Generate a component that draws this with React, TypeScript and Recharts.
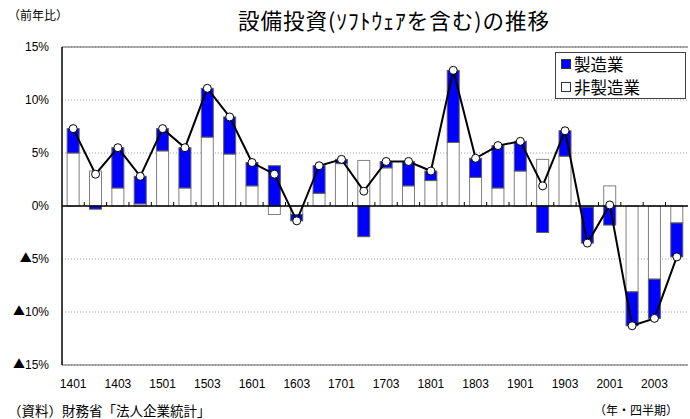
import React from 'react';
import { ComposedChart, Bar, Line, XAxis, YAxis, CartesianGrid, ReferenceLine, Legend } from 'recharts';

const quarters = ['1401','1402','1403','1404','1501','1502','1503','1504','1601','1602','1603','1604','1701','1702','1703','1704','1801','1802','1803','1804','1901','1902','1903','1904','2001','2002','2003','2004'];
const totalGrowth = [7.3, 3.0, 5.5, 2.8, 7.3, 5.5, 11.1, 8.4, 4.1, 3.0, -1.4, 3.8, 4.4, 1.4, 4.2, 4.2, 3.3, 12.8, 4.5, 5.7, 6.1, 1.9, 7.1, -3.5, 0.1, -11.3, -10.6, -4.8];
const nonManufacturing = [5.0, 3.3, 1.7, 0.2, 5.2, 1.7, 6.5, 4.9, 1.9, -0.8, -0.8, 1.2, 4.0, 4.3, 3.6, 1.9, 2.4, 6.0, 2.7, 1.7, 3.3, 4.4, 4.7, -0.1, 1.9, -8.1, -6.9, -1.6];
const manufacturing = [2.3, -0.3, 3.8, 2.6, 2.1, 3.8, 4.6, 3.5, 2.2, 3.8, -0.6, 2.6, 0.4, -2.9, 0.6, 2.3, 0.9, 6.8, 1.8, 4.0, 2.8, -2.5, 2.4, -3.4, -1.8, -3.2, -3.7, -3.2];
const yTicks = [-15, -10, -5, 0, 5, 10, 15];

const data = quarters.map((q, i) => ({ q, nm: nonManufacturing[i], m: manufacturing[i], total: totalGrowth[i] }));

const JP = '"Noto Sans CJK JP", sans-serif';
const NUM = '"Liberation Sans", "Noto Sans CJK JP", sans-serif';
const GAP = 0.23;

const NmShape = (props: any) => {
  const { x, y, width, height, payload } = props;
  const top = Math.min(y, y + height);
  const h = Math.abs(height);
  const zeroY = payload.nm >= 0 ? top + h : top;
  const slot = width / (1 - 2 * GAP);
  const bx = x + width / 2 + slot / 2;
  const isLast = payload.q === quarters[quarters.length - 1];
  return (
    <g>
      <rect x={x} y={top} width={width} height={h} fill="#ffffff" stroke="#808080" strokeWidth={1} />
      {!isLast && <line x1={bx} x2={bx} y1={zeroY - 4} y2={zeroY} stroke="#000" strokeWidth={1} />}
    </g>
  );
};

const MfgShape = (props: any) => {
  const { x, y, width, height } = props;
  const top = Math.min(y, y + height);
  const h = Math.abs(height);
  return <rect x={x} y={top} width={width} height={h} fill="#0000ff" stroke="#606060" strokeWidth={1} />;
};

const YTick = (props: any) => {
  const { x, y, payload } = props;
  const v = payload.value as number;
  return (
    <text x={x} y={y} dy="0.36em" textAnchor="end" fontSize={12} fill="#000" fontFamily={NUM}>
      {v < 0 && <tspan fontFamily={JP} fontSize={12}>▲</tspan>}
      {`${Math.abs(v)}%`}
    </text>
  );
};

const LegendBox = () => (
  <div style={{ border: '1px solid #404040', background: '#fff', width: 131, height: 47, boxSizing: 'border-box', padding: '0 0 0 5px', fontFamily: JP, fontSize: 16.5, lineHeight: '22.5px', color: '#000' }}>
    <div style={{ display: 'flex', alignItems: 'center', height: 22.5 }}>
      <span style={{ display: 'inline-block', width: 8, height: 8, background: '#0000ff', border: '1px solid #333', marginRight: 3 }} />製造業
    </div>
    <div style={{ display: 'flex', alignItems: 'center', height: 22.5 }}>
      <span style={{ display: 'inline-block', width: 8, height: 8, background: '#fff', border: '1px solid #333', marginRight: 3 }} />非製造業
    </div>
  </div>
);

export default function App() {
  return (
    <div style={{ position: 'absolute', left: 0, top: 0, width: 690, height: 419, background: '#fff', overflow: 'hidden' }}>
      <div style={{ position: 'absolute', left: 8, top: 8, fontFamily: JP, fontSize: 12, lineHeight: '14px', color: '#000' }}>（前年比）</div>
      <div style={{ position: 'absolute', left: 394, top: 7, transform: 'translateX(-50%)', whiteSpace: 'nowrap', fontFamily: JP, fontSize: 21.5, letterSpacing: 1, lineHeight: '26px', color: '#000' }}>設備投資(ｿﾌﾄｳｪｱを含む)の推移</div>
      <ComposedChart width={690} height={419} data={data} stackOffset="sign" barCategoryGap="23%" margin={{ top: 47, right: 2, bottom: 24, left: 0 }}>
        <CartesianGrid horizontal vertical={false} stroke="#a0a0a0" strokeDasharray="1 2" />
        <XAxis dataKey="q" interval={1} tickLine={false} axisLine={{ stroke: '#606060', strokeWidth: 1 }} height={30} tickMargin={8} tick={{ fontSize: 12, fill: '#000', fontFamily: NUM }} />
        <YAxis domain={[-15, 15]} ticks={yTicks} width={62} tickLine={false} tickMargin={7} axisLine={{ stroke: '#000', strokeWidth: 1.5 }} tick={<YTick />} />
        <YAxis yAxisId="r" orientation="right" domain={[-15, 15]} width={0} tick={false} tickLine={false} axisLine={{ stroke: '#606060', strokeWidth: 1 }} />
        <Legend layout="vertical" align="center" verticalAlign="middle" content={() => <LegendBox />} wrapperStyle={{ position: 'absolute', left: 555, top: 52, width: 131 }} />
        <Bar dataKey="nm" name="非製造業" stackId="a" shape={NmShape} isAnimationActive={false} />
        <Bar dataKey="m" name="製造業" stackId="a" shape={MfgShape} isAnimationActive={false} />
        <ReferenceLine y={15} stroke="#606060" strokeWidth={1} />
        <ReferenceLine y={0} stroke="#000" strokeWidth={1.5} />
        <Line dataKey="total" type="linear" stroke="#000" strokeWidth={2} dot={{ r: 4, fill: '#fff', stroke: '#000', strokeWidth: 1 }} isAnimationActive={false} />
      </ComposedChart>
      <div style={{ position: 'absolute', left: 8, top: 402, fontFamily: JP, fontSize: 13.5, lineHeight: '16px', color: '#000', whiteSpace: 'nowrap' }}>（資料）財務省「法人企業統計」</div>
      <div style={{ position: 'absolute', left: 594, top: 402, fontFamily: JP, fontSize: 12, lineHeight: '16px', color: '#000', whiteSpace: 'nowrap' }}>（年・四半期）</div>
    </div>
  );
}
